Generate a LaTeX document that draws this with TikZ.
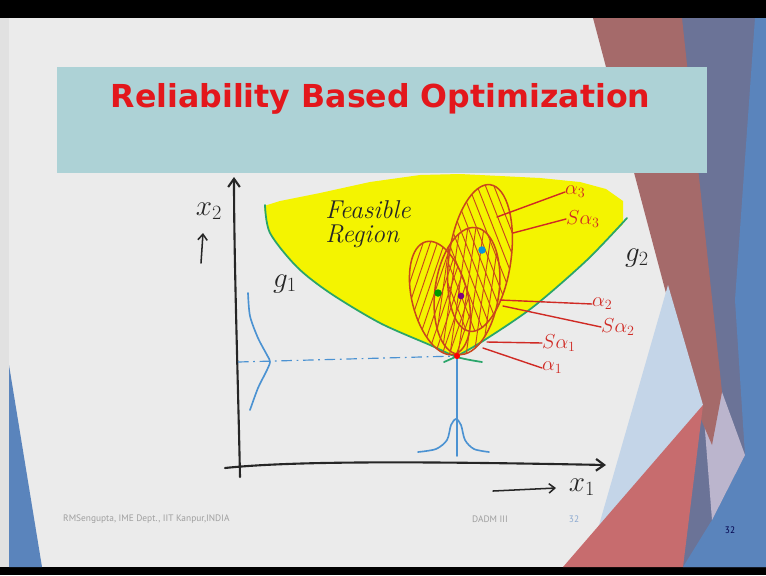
\documentclass[tikz,border=0pt]{standalone}
\usepackage{fontspec}
\newfontfamily\slidefont{PT Sans}
\newfontfamily\headfont{DejaVu Sans}
\usetikzlibrary{arrows.meta,positioning}

% slide theme colours
\definecolor{slidegray}{HTML}{EBEBEB}
\definecolor{edgegray}{HTML}{E1E1E1}
\definecolor{titlebox}{HTML}{ADD2D6}
\definecolor{titlered}{HTML}{E3171C}
\definecolor{facetmaroon}{HTML}{A56A6A}
\definecolor{facetslate}{HTML}{6B7397}
\definecolor{facetblue}{HTML}{5A84BC}
\definecolor{facetsky}{HTML}{C4D5E8}
\definecolor{facetsalmon}{HTML}{C76C6E}
\definecolor{facetlilac}{HTML}{BBB5CD}
% pen colours
\definecolor{feasyellow}{HTML}{F4F400}
\definecolor{curvegreen}{HTML}{2AA56A}
\definecolor{penblue}{HTML}{4B92D2}
\definecolor{penred}{HTML}{D02A24}
\definecolor{penorange}{HTML}{C9461C}

\tikzset{
  pen/.style={line width=1.8pt, line cap=round, line join=round},
  axisline/.style={pen, black!85, -{Straight Barb[length=7pt,width=10pt]}},
  smallarrow/.style={pen, line width=1.3pt, black!85, -{Straight Barb[length=5pt,width=8pt]}},
  bellcurve/.style={penblue, line width=1.4pt, line cap=round},
  limitcurve/.style={curvegreen, line width=1.5pt, line cap=round},
  blob/.style={penorange, line width=1.3pt},
  hatch/.style={penorange, line width=0.8pt},
  leader/.style={penred, line width=1.2pt, line cap=round},
  redlabel/.style={text=penred, font=\fontsize{18}{18}\selectfont, inner sep=0pt, anchor=west},
  inklabel/.style={text=black!85, font=\fontsize{24}{24}\selectfont, inner sep=0pt},
  footer/.style={font=\slidefont\fontsize{8}{8}\selectfont, inner sep=0pt},
}

\begin{document}
\begin{tikzpicture}[x=0.03cm,y=-0.03cm]
\useasboundingbox (0,0) rectangle (766,575);

% screen and slide
\fill[black] (0,0) rectangle (766,575);
\fill[slidegray] (0,18) rectangle (766,567);
\fill[edgegray] (0,18) rectangle (9,567);
\fill[facetblue] (9,365) -- (42,567) -- (9,567) -- cycle;

% facets on the right
\fill[facetslate] (682,18) -- (766,18) -- (766,567) -- (683,567) -- cycle;
\fill[facetblue] (755,18) -- (766,18) -- (766,567) -- (683,567) -- (712,520) -- (745,455) -- (735,300) -- cycle;
\fill[facetlilac] (703,405) -- (722,392) -- (745,455) -- (712,520) -- cycle;
\fill[facetmaroon] (593,18) -- (682,18) -- (722,392) -- (712,445) -- (697,410) -- cycle;
\fill[facetsky] (668,285) -- (703,405) -- (587,567) -- cycle;
\fill[facetsalmon] (563,567) -- (703,405) -- (683,567) -- cycle;

% title
\fill[titlebox] (57,67) rectangle (707,173);
\node[anchor=base, text=titlered, inner sep=0pt,
      font=\headfont\bfseries\fontsize{27}{32}\selectfont] (title) at (380.5,107)
      {Reliability Based Optimization};

% footer
\node[footer, text=gray!75, anchor=west] (author) at (63,519) {RMSengupta, IME Dept., IIT Kanpur,INDIA};
\node[footer, text=gray!75] (course) at (490,519) {DADM III};
\node[footer, text=facetblue!70] (pageno) at (574,519) {32};
\node[footer, text=black!70!blue] (pagecorner) at (730,530) {32};

% feasible region
\fill[feasyellow] plot[smooth] coordinates {(264,206) (270,233) (297,267) (330,293) (380,323) (430,345)
    (457,356) (483,341) (533,307) (587,260) (623,224)}
  -- (623,201) -- (606,189) -- (580,182) -- (540,178) -- (500,176) -- (460,174) -- (420,175)
  -- (370,182) -- (320,193) -- (280,201) -- cycle;
\draw[limitcurve] plot[smooth] coordinates {(265,205) (270,233) (297,267) (330,293) (380,323)
    (430,345) (457,357) (482,362)};
\draw[limitcurve] plot[smooth] coordinates {(444,362) (457,356) (483,341) (533,307) (587,260) (627,218)};

% axes
\coordinate (origin) at (240,477);
\coordinate (ytop) at (234,177);
\coordinate (xstart) at (225,468);
\coordinate (xend) at (606,465);
\draw[axisline] (origin) .. controls (238,380) and (234,260) .. (ytop);
\draw[axisline] (xstart) .. controls (300,460) and (450,462) .. (xend);

% spread of the design point
\coordinate (optimum) at (457,356);
\coordinate (xfoot) at (457,456);
\coordinate (yfoot) at (238,362);
\draw[penblue, line width=1pt, dash pattern=on 9pt off 4pt on 1.5pt off 4pt] (yfoot) -- (optimum);
\draw[bellcurve] (optimum) -- (xfoot);
\draw[bellcurve] plot[smooth] coordinates {(418,452) (436,449) (447,440) (451,425) (456,419)
    (461,425) (465,440) (474,449) (489,452)};
\draw[bellcurve] plot[smooth] coordinates {(248,293) (250,316) (258,338) (267,355) (270,362)
    (266,372) (258,388) (250,410)};

% reliability ellipses
\begin{scope}[shift={(440,298)}, rotate=14]
  \draw[blob] (0,0) ellipse [x radius=28, y radius=58];
  \clip (0,0) ellipse [x radius=28, y radius=58];
  \foreach \k in {-14,...,14} \draw[hatch] (\k*8+45,-70) -- ++(-90,140);
\end{scope}
\begin{scope}[shift={(467,291)}, rotate=-8]
  \draw[blob] (0,0) ellipse [x radius=32, y radius=64];
  \clip (0,0) ellipse [x radius=32, y radius=64];
  \foreach \k in {-6,...,6} \draw[hatch] (\k*8,-70) -- ++(0,140);
\end{scope}
\begin{scope}[shift={(480,258)}, rotate=-8]
  \draw[blob] (0,0) ellipse [x radius=31, y radius=74];
  \clip (0,0) ellipse [x radius=31, y radius=74];
  \foreach \k in {-16,...,16} \draw[hatch] (\k*9-45,-80) -- ++(90,160);
\end{scope}

% centres and design point
\fill[green!60!black] (438,293) circle[radius=3.2pt];
\fill[violet] (461,296) circle[radius=2.8pt];
\fill[cyan!80!blue] (482,250) circle[radius=3.2pt];
\fill[red] (optimum) circle[radius=2.6pt];

% labels
\node[inklabel] (xtwo) at (209,211) {$x_2$};
\coordinate (uptail) at (201,263);
\coordinate (uphead) at (203,233);
\draw[smallarrow] (uptail) -- (uphead);
\node[inklabel] (xone) at (582,487) {$x_1$};
\coordinate (righttail) at (493,491);
\coordinate (righthead) at (556,488);
\draw[smallarrow] (righttail) -- (righthead);
\node[inklabel, align=left, font=\itshape\fontsize{22}{20}\selectfont] (feasible) at (368,224)
    {Feasible\\Region};
\node[inklabel] (gone) at (285,284) {$g_1$};
\node[inklabel] (gtwo) at (637,258) {$g_2$};

\node[redlabel] (a3) at (565,192) {$\alpha_3$};
\node[redlabel] (sa3) at (566,219) {$S\alpha_3$};
\node[redlabel] (a2) at (592,304) {$\alpha_2$};
\node[redlabel] (sa2) at (601,327) {$S\alpha_2$};
\node[redlabel] (sa1) at (542,343) {$S\alpha_1$};
\node[redlabel] (a1) at (542,368) {$\alpha_1$};

\coordinate (rimA3) at (497,217);
\coordinate (rimSA3) at (513,233);
\coordinate (rimA2) at (500,300);
\coordinate (rimSA2) at (503,306);
\coordinate (rimSA1) at (487,342);
\coordinate (rimA1) at (483,348);
\draw[leader] (rimA3) -- (a3.west);
\draw[leader] (rimSA3) -- (sa3.west);
\draw[leader] (rimA2) -- (a2.west);
\draw[leader] (rimSA2) -- (sa2.west);
\draw[leader] (rimSA1) -- (sa1.west);
\draw[leader] (rimA1) -- (a1.west);
\end{tikzpicture}
\end{document}
